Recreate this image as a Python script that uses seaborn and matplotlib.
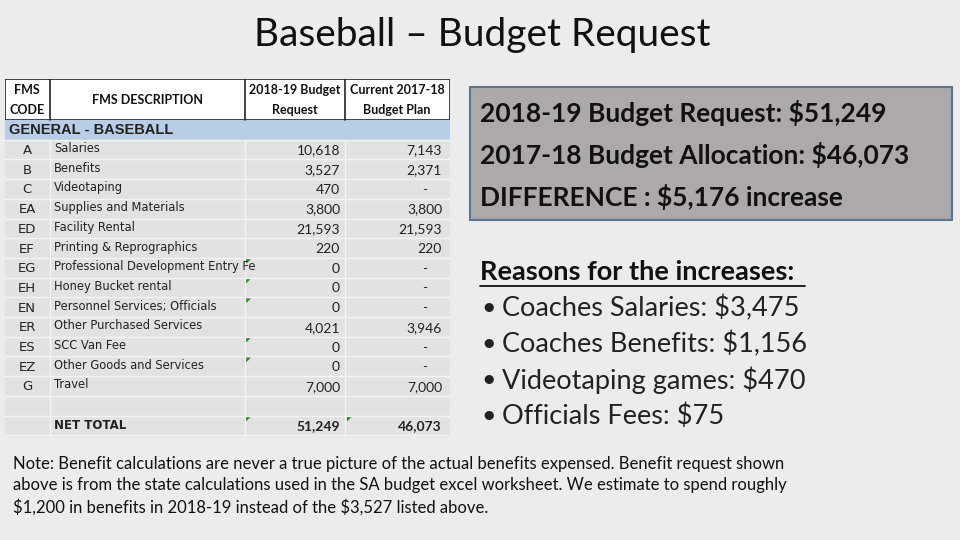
import numpy as np
import pandas as pd
import seaborn as sns
import matplotlib.pyplot as plt
from matplotlib.patches import Rectangle, Polygon

# slide data
title = "Baseball \u2013 Budget Request"
codes = ["A", "B", "C", "EA", "ED", "EF", "EG", "EH", "EN", "ER", "ES", "EZ", "G"]
descriptions = ["Salaries", "Benefits", "Videotaping", "Supplies and Materials",
                "Facility Rental", "Printing & Reprographics",
                "Professional Development Entry Fe", "Honey Bucket rental",
                "Personnel Services; Officials", "Other Purchased Services",
                "SCC Van Fee", "Other Goods and Services", "Travel"]
request_1819 = [10618, 3527, 470, 3800, 21593, 220, 0, 0, 0, 4021, 0, 0, 7000]
plan_1718 = [7143, 2371, None, 3800, 21593, 220, None, None, None, 3946, None, None, 7000]
flagged = [False, False, False, False, False, False, True, True, True, False, True, True, False]
total_request = 51249
total_plan = 46073
summary_lines = [r"2018-19 Budget Request: \$51,249",
                 r"2017-18 Budget Allocation: \$46,073",
                 r"DIFFERENCE : \$5,176 increase"]
reasons_title = "Reasons for the increases:"
reasons = [r"Coaches Salaries: \$3,475", r"Coaches Benefits: \$1,156",
           r"Videotaping games: \$470", r"Officials Fees: \$75"]
note = ("Note: Benefit calculations are never a true picture of the actual benefits expensed. Benefit request shown\n"
        "above is from the state calculations used in the SA budget excel worksheet. We estimate to spend roughly\n"
        r"\$1,200 in benefits in 2018-19 instead of the \$3,527 listed above.")

df = pd.DataFrame({"code": codes, "desc": descriptions,
                   "req": request_1819, "plan": plan_1718, "flag": flagged})

sns.set_theme(style="white")
plt.rcParams["font.family"] = ["Lato", "DejaVu Sans"]

fig = plt.figure(figsize=(9.6, 5.4), dpi=100)
fig.patch.set_facecolor("#ececec")

# slide canvas in pixel units
slide = fig.add_axes([0, 0, 1, 1])
slide.set_xlim(0, 960)
slide.set_ylim(540, 0)
slide.axis("off")

slide.text(482, 35, title, ha="center", va="center", fontsize=28,
           fontweight="normal", color="#111111")

# summary box
slide.add_patch(Rectangle((470, 87), 482, 133, facecolor="#aba9a9",
                          edgecolor="#5b7590", linewidth=1.5))
for i, line in enumerate(summary_lines):
    slide.text(480, 113 + i * 42, line, ha="left", va="center",
               fontsize=19, fontweight="bold", color="#111111")

# reasons
slide.text(480, 272, reasons_title, ha="left", va="center",
           fontsize=19.5, fontweight="bold", color="#111111")
slide.plot([480, 805], [286, 286], color="#111111", lw=1.3)
for i, r in enumerate(reasons):
    slide.text(481, 308 + i * 36, "\u2022", ha="left", va="center",
               fontsize=18, color="#222222")
    slide.text(502, 308 + i * 36, r, ha="left", va="center",
               fontsize=19.5, color="#222222")

slide.text(13, 486, note, ha="left", va="center", fontsize=12,
           color="#111111", linespacing=1.4)

# table axes (pixel-like units inside the table)
tab = fig.add_axes([5 / 960, (540 - 437) / 540, 445 / 960, 358 / 540])
tab.set_xlim(0, 445)
tab.set_ylim(358, 0)
tab.axis("off")

col_edges = [0, 45, 240, 340, 445]
header_h = 41
row_h = 19.7
tab.add_patch(Rectangle((0, header_h), 445, 358 - header_h, facecolor="#e2e2e2", edgecolor="none"))
tab.add_patch(Rectangle((0, 0), 445, header_h, facecolor="white", edgecolor="#222222", lw=1.2))
for x in col_edges[1:-1]:
    tab.plot([x, x], [0, header_h], color="#222222", lw=1.2)

hdr_font = dict(fontsize=9, fontweight="bold", color="#111111")
tab.text(22, 11, "FMS", ha="center", va="center", **hdr_font)
tab.text(22, 31, "CODE", ha="center", va="center", **hdr_font)
tab.text(143, 21, "FMS DESCRIPTION", ha="center", va="center", **hdr_font)
tab.text(290, 11, "2018-19 Budget", ha="center", va="center", **hdr_font)
tab.text(290, 31, "Request", ha="center", va="center", **hdr_font)
tab.text(392, 11, "Current 2017-18", ha="center", va="center", **hdr_font)
tab.text(392, 31, "Budget Plan", ha="center", va="center", **hdr_font)

# general row
tab.add_patch(Rectangle((0, header_h), 445, row_h, facecolor="#b9cde5", edgecolor="none"))
tab.text(4, header_h + row_h / 2, "GENERAL - BASEBALL", ha="left", va="center",
         fontsize=10.5, fontweight="bold", color="#222222",
         family=["Liberation Sans", "DejaVu Sans"])

top = header_h + row_h
n_rows = len(df) + 2
for k in range(n_rows + 1):
    y = top + k * row_h
    tab.plot([0, 445], [y, y], color="#f4f4f4", lw=1)
for x in col_edges[1:-1]:
    tab.plot([x, x], [top, 358], color="#f4f4f4", lw=1)

desc_font = dict(fontsize=8.3, color="#222222", family=["DejaVu Sans"])
num_font = dict(fontsize=10, color="#222222")


def fmt(v):
    return "-" if v is None or (isinstance(v, float) and np.isnan(v)) else f"{int(v):,}"


def flag(x, y):
    tab.add_patch(Polygon([[x + 1, y + 1], [x + 6, y + 1], [x + 1, y + 6]],
                          closed=True, facecolor="#2e7d32", edgecolor="none"))


for i, row in df.iterrows():
    yc = top + (i + 0.5) * row_h
    tab.text(22, yc + 1, row["code"], ha="center", va="center", fontsize=9.5,
             color="#222222", family=["DejaVu Sans"])
    tab.text(49, yc - 1, row["desc"], ha="left", va="center", clip_on=True, **desc_font)
    tab.text(335, yc + 1, fmt(row["req"]), ha="right", va="center", **num_font)
    pv = fmt(row["plan"])
    if pv == "-":
        tab.text(420, yc + 1, pv, ha="center", va="center", **num_font)
    else:
        tab.text(437, yc + 1, pv, ha="right", va="center", **num_font)
    if row["flag"]:
        flag(240, top + i * row_h)

yt = top + (len(df) + 1.5) * row_h
tab.text(49, yt, "NET TOTAL", ha="left", va="center", fontsize=8.5,
         fontweight="bold", color="#222222", family=["DejaVu Sans"])
tab.text(335, yt + 1, f"{total_request:,}", ha="right", va="center", fontsize=10,
         fontweight="bold", color="#222222")
tab.text(437, yt + 1, f"{total_plan:,}", ha="right", va="center", fontsize=10,
         fontweight="bold", color="#222222")
flag(240, top + (len(df) + 1) * row_h)
flag(341, top + (len(df) + 1) * row_h)

fig.savefig("out.png", dpi=100, facecolor=fig.get_facecolor())
